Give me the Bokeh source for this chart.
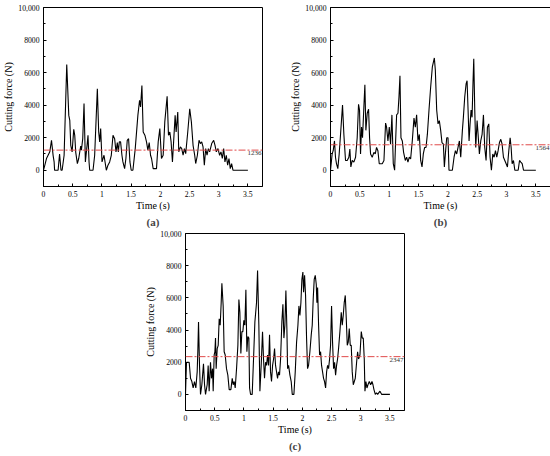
from bokeh.plotting import figure
from bokeh.models import Range1d, FixedTicker, Span, Label, Title, Spacer
from bokeh.layouts import row, column
from bokeh.embed import file_html
from bokeh.resources import INLINE

# ---------------- data ----------------
time_a = [0, 0.023, 0.051, 0.108, 0.137, 0.165, 0.182, 0.19, 0.25, 0.275, 0.30, 0.319,
          0.353, 0.398, 0.433, 0.45, 0.467, 0.49, 0.518, 0.535, 0.552, 0.58, 0.603, 0.637,
          0.649, 0.672, 0.694, 0.717, 0.746, 0.762, 0.78, 0.791, 0.848, 0.876, 0.922, 0.945,
          0.962, 0.979, 1.002, 1.036, 1.076, 1.104, 1.133, 1.161, 1.19, 1.218, 1.241, 1.264,
          1.281, 1.298, 1.32, 1.343, 1.36, 1.389, 1.411, 1.434, 1.457, 1.48, 1.502, 1.531,
          1.571, 1.616, 1.645, 1.662, 1.685, 1.707, 1.736, 1.764, 1.787, 1.81, 1.833, 1.85,
          1.878, 1.935, 1.964, 1.992, 2.02, 2.049, 2.077, 2.117, 2.14, 2.163, 2.185, 2.208,
          2.231, 2.254, 2.271, 2.299, 2.316, 2.344, 2.367, 2.39, 2.413, 2.435, 2.47, 2.504,
          2.532, 2.561, 2.589, 2.606, 2.635, 2.663, 2.686, 2.709, 2.732, 2.754, 2.777, 2.8,
          2.823, 2.845, 2.88, 2.914, 2.937, 2.959, 2.988, 3.016, 3.039, 3.062, 3.085, 3.107,
          3.13, 3.153, 3.176, 3.198, 3.221, 3.244, 3.5]
force_a = [0, 310, 720, 1130, 1840, 900, 510, 0, 0, 1000, 0, 0,
           920, 6500, 3370, 3070, 1530, 1130, 2520, 2150, 1100, 410, 720, 1490,
           1230, 1940, 4100, 510, 1530, 2150, 510, 0, 0, 920, 5000, 2350,
           1740, 2560, 510, 920, 0, 310, 510, 920, 2150, 1940, 1130, 1700,
           1130, 1740, 1740, 920, 510, 100, 720, 1840, 1940, 510, 0, 0,
           1330, 3370, 4300, 3890, 5200, 2350, 2150, 1740, 1230, 1700, 920, 720,
           100, 100, 1740, 2560, 720, 920, 2970, 4550, 2150, 2350, 1740, 510,
           1940, 3370, 2350, 3580, 1130, 1430, 1330, 920, 1330, 1020, 2350, 3780,
           2970, 1530, 920, 410, 920, 1840, 1640, 1740, 1430, 310, 1330, 920,
           1330, 1130, 1640, 1840, 1530, 1130, 1330, 920, 1130, 720, 1330, 510,
           920, 310, 720, 100, 410, 0, 0]
mean_a = 1236

time_b = [0, 0.028, 0.046, 0.068, 0.085, 0.102, 0.125, 0.148, 0.171, 0.205, 0.228, 0.256,
          0.285, 0.313, 0.33, 0.347, 0.37, 0.398, 0.427, 0.455, 0.478, 0.495, 0.512, 0.529,
          0.546, 0.569, 0.586, 0.603, 0.626, 0.649, 0.666, 0.683, 0.711, 0.74, 0.763, 0.785,
          0.808, 0.831, 0.882, 0.911, 0.939, 0.956, 0.979, 1.002, 1.024, 1.047, 1.07, 1.093,
          1.11, 1.127, 1.15, 1.167, 1.184, 1.201, 1.224, 1.246, 1.275, 1.298, 1.32, 1.343,
          1.366, 1.394, 1.423, 1.446, 1.468, 1.491, 1.514, 1.537, 1.56, 1.582, 1.605, 1.628,
          1.651, 1.679, 1.707, 1.736, 1.77, 1.787, 1.81, 1.833, 1.855, 1.878, 1.90, 1.924,
          1.941, 1.958, 1.981, 2.003, 2.02, 2.077, 2.106, 2.129, 2.151, 2.174, 2.197, 2.22,
          2.248, 2.265, 2.288, 2.311, 2.328, 2.345, 2.362, 2.379, 2.396, 2.413, 2.43, 2.442,
          2.459, 2.476, 2.499, 2.516, 2.538, 2.561, 2.584, 2.607, 2.629, 2.652, 2.675, 2.698,
          2.72, 2.743, 2.766, 2.789, 2.812, 2.834, 2.857, 2.88, 2.903, 2.925, 2.948, 2.971,
          2.994, 3.016, 3.039, 3.062, 3.079, 3.096, 3.119, 3.142, 3.199, 3.222, 3.244, 3.267,
          3.29, 3.5]
force_b = [0, 1000, 1200, 1800, 800, 400, 100, 1000, 2200, 4000, 2200, 600,
           600, 800, 1300, 200, 600, 500, 800, 2000, 4050, 3700, 1000, 2650,
           2000, 3900, 5250, 2450, 3500, 3750, 2000, 1000, 800, 1100, 1000, 1400,
           1200, 400, 400, 600, 2900, 2650, 1800, 2650, 1600, 3400, 400, 0,
           1800, 3400, 3500, 4500, 5800, 2000, 1800, 1100, 600, 800, 500, 800,
           700, 1800, 3200, 2650, 3400, 1800, 2200, 600, 200, 1000, 1400, 1400,
           2200, 3700, 5100, 6350, 6900, 6150, 3700, 2850, 3050, 2450, 1700, 1600,
           200, 1000, 2000, 2000, 0, 0, 800, 1200, 1000, 1400, 1800, 800,
           2450, 3250, 4500, 5300, 5500, 3700, 1800, 2850, 3700, 3250, 5500, 6850,
           3700, 1400, 3050, 2200, 1000, 1800, 2200, 3400, 1400, 600, 2650, 2850,
           800, 0, 1000, 800, 1200, 800, 1200, 1700, 1900, 1600, 800, 600,
           400, 200, 1200, 2000, 1400, 400, 600, 0, 0, 600, 500, 400,
           0, 0]
mean_b = 1564

time_c = [0, 0.017, 0.063, 0.086, 0.109, 0.131, 0.154, 0.177, 0.2, 0.211, 0.223, 0.24,
          0.257, 0.28, 0.308, 0.326, 0.343, 0.371, 0.388, 0.405, 0.428, 0.445, 0.463, 0.474,
          0.491, 0.503, 0.514, 0.525, 0.543, 0.56, 0.577, 0.594, 0.611, 0.623, 0.645, 0.662,
          0.68, 0.702, 0.725, 0.748, 0.777, 0.8, 0.817, 0.834, 0.851, 0.874, 0.897, 0.914,
          0.931, 0.948, 0.965, 0.982, 0.999, 1.017, 1.034, 1.051, 1.068, 1.085, 1.097, 1.114,
          1.142, 1.165, 1.188, 1.216, 1.234, 1.256, 1.274, 1.296, 1.319, 1.336, 1.353, 1.371,
          1.388, 1.405, 1.422, 1.439, 1.456, 1.473, 1.491, 1.508, 1.525, 1.542, 1.559, 1.576,
          1.593, 1.61, 1.628, 1.65, 1.668, 1.685, 1.702, 1.719, 1.736, 1.748, 1.765, 1.788,
          1.81, 1.828, 1.856, 1.879, 1.902, 1.925, 1.942, 1.959, 1.976, 1.993, 2.01, 2.022,
          2.039, 2.056, 2.073, 2.09, 2.107, 2.13, 2.153, 2.17, 2.187, 2.204, 2.222, 2.239,
          2.25, 2.262, 2.279, 2.296, 2.313, 2.33, 2.347, 2.364, 2.381, 2.399, 2.416, 2.433,
          2.45, 2.467, 2.484, 2.501, 2.518, 2.536, 2.553, 2.57, 2.587, 2.604, 2.621, 2.644,
          2.667, 2.684, 2.701, 2.718, 2.736, 2.753, 2.77, 2.787, 2.804, 2.821, 2.838, 2.855,
          2.873, 2.89, 2.907, 2.93, 2.947, 2.964, 2.987, 3.01, 3.027, 3.044, 3.061, 3.073,
          3.09, 3.107, 3.124, 3.147, 3.17, 3.193, 3.21, 3.227, 3.25, 3.27, 3.29, 3.33,
          3.36, 3.5]
force_c = [0, 2000, 2000, 1000, 800, 400, 800, 400, 1400, 2650, 4500, 1800,
           0, 600, 1900, 600, 0, 600, 1800, 200, 2000, 1000, 1600, 200,
           2450, 2650, 3500, 1600, 2850, 3050, 4700, 4300, 5700, 6900, 5500, 2650,
           2450, 1600, 1200, 300, 300, 1000, 600, 800, 400, 1600, 3050, 5900,
           5100, 2550, 3900, 3900, 4600, 4300, 6500, 2650, 3600, 3500, 400, 0,
           0, 2200, 4500, 5700, 7700, 4300, 200, 1800, 3900, 2200, 1000, 2000,
           1800, 2450, 1800, 3700, 1400, 800, 1800, 2200, 2850, 1800, 1400, 1000,
           1400, 1200, 2200, 4500, 5600, 3500, 4300, 6450, 4100, 1600, 1800, 1200,
           800, 0, 0, 1400, 3250, 4300, 5500, 4900, 5700, 7150, 7600, 6350,
           7400, 6150, 3500, 1600, 1800, 2650, 3700, 4300, 5950, 7150, 7400, 6850,
           5700, 6650, 4300, 2450, 2650, 1800, 1400, 1000, 800, 400, 1400, 1800,
           1600, 2200, 3050, 5500, 3250, 1600, 2000, 1200, 1800, 2200, 2850, 3900,
           5100, 4300, 4900, 5700, 6150, 4700, 3050, 3250, 4100, 3050, 3050, 1400,
           600, 800, 1000, 2000, 2650, 2200, 2450, 3900, 3500, 3500, 2200, 200,
           800, 400, 600, 800, 600, 800, 600, 300, 0, 100, 0, 200,
           0, 0]
mean_c = 2347

x_ticks = [0, 0.5, 1.0, 1.5, 2.0, 2.5, 3.0, 3.5]
x_minor = [0.25, 0.75, 1.25, 1.75, 2.25, 2.75, 3.25]
y_ticks = [0, 2000, 4000, 6000, 8000, 10000]
y_minor = [-1000, 1000, 3000, 5000, 7000, 9000]
y_tick_labels = {10000: "10,000"}
x_label = "Time (s)"
y_label = "Cutting force (N)"

SERIF = "Liberation Serif"


def make_panel(t, f, mean, tag, fw, fh, left, right, top, bottom):
    p = figure(frame_width=fw, frame_height=fh, output_backend="svg",
               toolbar_location=None, x_range=Range1d(0, 3.75),
               y_range=Range1d(-1000, 10000),
               min_border_left=left, min_border_right=right,
               min_border_top=top, min_border_bottom=bottom)
    p.background_fill_color = "white"
    p.border_fill_color = "white"
    p.outline_line_color = "black"
    p.outline_line_width = 1
    p.outline_line_alpha = 1
    p.xgrid.visible = False
    p.ygrid.visible = False

    p.xaxis.ticker = FixedTicker(ticks=x_ticks, minor_ticks=x_minor)
    p.yaxis.ticker = FixedTicker(ticks=y_ticks, minor_ticks=y_minor)
    p.yaxis.major_label_overrides = y_tick_labels
    for ax in (p.xaxis, p.yaxis):
        ax.axis_line_color = "black"
        ax.axis_line_width = 1
        ax.major_tick_in = 3
        ax.major_tick_out = 0
        ax.minor_tick_in = 2
        ax.minor_tick_out = 0
        ax.major_tick_line_color = "black"
        ax.minor_tick_line_color = "black"
        ax.major_label_text_font = SERIF
        ax.major_label_text_font_size = "7.7px"
        ax.major_label_text_color = "black"
        ax.axis_label_text_font = SERIF
        ax.axis_label_text_font_size = "10px"
        ax.axis_label_text_font_style = "normal"
        ax.axis_label_text_color = "black"
    p.xaxis.major_label_standoff = 4
    p.xaxis.axis_label_standoff = 0
    p.yaxis.major_label_standoff = 4
    p.yaxis.axis_label_standoff = 1
    p.xaxis.axis_label = x_label
    p.yaxis.axis_label = y_label

    p.line(t, f, line_color="black", line_width=1.1)
    p.add_layout(Span(location=mean, dimension="width", line_color="#e04a4a",
                      line_dash="7 2 2 2", line_width=1))
    p.add_layout(Label(x=3.75, y=mean, text=str(mean), text_align="right",
                       text_baseline="top", x_offset=-1, y_offset=-1,
                       text_font=SERIF, text_font_size="7px",
                       text_color="#333333"))
    p.add_layout(Title(text=tag, align="center", text_font=SERIF,
                       text_font_size="11px", text_font_style="bold",
                       standoff=0, offset=0), "below")
    return p


pa = make_panel(time_a, force_a, mean_a, "(a)", 219, 179, 40, 25, 7, 42)
pb = make_panel(time_b, force_b, mean_b, "(b)", 220, 179, 40, 5, 7, 42)
pc = make_panel(time_c, force_c, mean_c, "(c)", 219, 177, 40, 20, 5, 42)

layout = column(row(pa, pb), row(Spacer(width=142, height=10), pc))

open("out.html", "w").write(file_html(layout, INLINE))
